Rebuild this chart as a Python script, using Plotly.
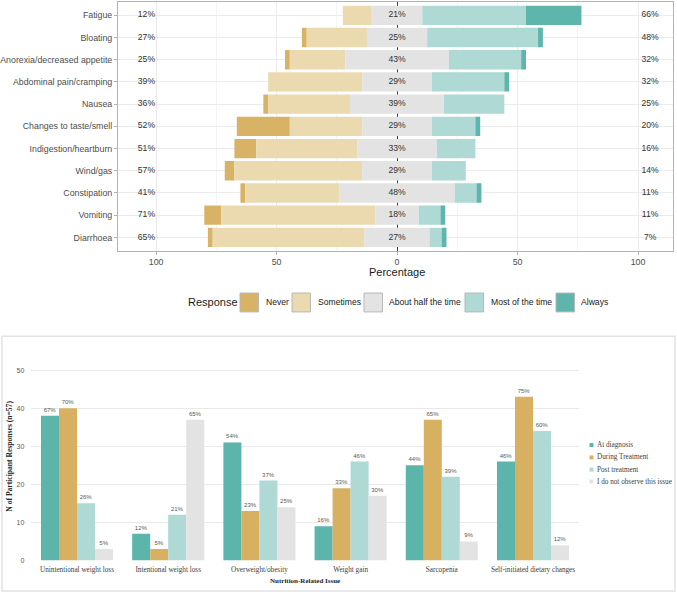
import plotly.graph_objects as go

W, H = 677, 596
def px(x): return x / W
def py(y): return 1 - y / H

# ---------------- Top panel data (percent of respondents) ----------------
symptoms = ["Fatigue", "Bloating", "Anorexia/decreased appetite", "Abdominal pain/cramping",
            "Nausea", "Changes to taste/smell", "Indigestion/heartburn", "Wind/gas",
            "Constipation", "Vomiting", "Diarrhoea"]
never     = [0, 2, 2, 0, 2, 22, 9, 4, 2, 7, 2]
sometimes = [12, 25, 23, 39, 34, 30, 42, 53, 39, 64, 63]
half      = [21, 25, 43, 29, 39, 29, 33, 29, 48, 18, 27]
most      = [43, 46, 30, 30, 25, 18, 16, 14, 9, 9, 5]
always    = [23, 2, 2, 2, 0, 2, 0, 0, 2, 2, 2]
responses = ["Never", "Sometimes", "About half the time", "Most of the time", "Always"]
x_ticks = [-100, -50, 0, 50, 100]
x_ticktext = ["100", "50", "0", "50", "100"]

# ---------------- Bottom panel data (counts, n=57) ----------------
issues = ["Unintentional weight loss", "Intentional weight loss", "Overweight/obesity",
          "Weight gain", "Sarcopenia", "Self-initiated dietary changes"]
at_diagnosis = [38, 7, 31, 9, 25, 26]
at_diagnosis_pct = ["67%", "12%", "54%", "16%", "44%", "46%"]
during_treatment = [40, 3, 13, 19, 37, 43]
during_treatment_pct = ["70%", "5%", "23%", "33%", "65%", "75%"]
post_treatment = [15, 12, 21, 26, 22, 34]
post_treatment_pct = ["26%", "21%", "37%", "46%", "39%", "60%"]
not_observed = [3, 37, 14, 17, 5, 4]
not_observed_pct = ["5%", "65%", "25%", "30%", "9%", "12%"]
series_names = ["At diagnosis", "During Treatment", "Post treatment", "I do not observe this issue"]
y2_ticks = [0, 10, 20, 30, 40, 50]

# ---------------- Styles ----------------
C_NEVER, C_SOME, C_HALF, C_MOST, C_ALWAYS = "#D9B365", "#EBDAB0", "#E3E3E3", "#AED9D5", "#5DB5AB"
top_colors = [C_NEVER, C_SOME, C_HALF, C_MOST, C_ALWAYS]
bot_colors = ["#5CB5AA", "#D8B061", "#AED9D5", "#E3E3E3"]
SANS = "Liberation Sans, Arial, sans-serif"
SERIF = "Liberation Serif, Times New Roman, serif"

fig = go.Figure()

# diverging stacked bars (computed bases)
left_half = [h / 2 for h in half]
base_half = [-h for h in left_half]
base_some = [-(lh + s) for lh, s in zip(left_half, sometimes)]
base_never = [-(lh + s + n) for lh, s, n in zip(left_half, sometimes, never)]
base_most = left_half
base_always = [lh + m for lh, m in zip(left_half, most)]

bw_top = 0.87
for vals, base, col in [(never, base_never, C_NEVER), (sometimes, base_some, C_SOME),
                        (half, base_half, C_HALF), (most, base_most, C_MOST),
                        (always, base_always, C_ALWAYS)]:
    fig.add_trace(go.Bar(y=symptoms, x=vals, base=base, orientation="h", width=bw_top,
                         marker=dict(color=col, line=dict(width=0)), showlegend=False,
                         xaxis="x", yaxis="y", hoverinfo="skip"))

left_lbl = [f"{n + s}%" for n, s in zip(never, sometimes)]
mid_lbl = [f"{h}%" for h in half]
right_lbl = [f"{m + a}%" for m, a in zip(most, always)]
for xpos, lbls in [(-104, left_lbl), (0, mid_lbl), (105, right_lbl)]:
    fig.add_trace(go.Scatter(y=symptoms, x=[xpos] * len(symptoms), mode="text", text=lbls,
                             textfont=dict(family=SANS, size=8.6, color="#333333"),
                             showlegend=False, xaxis="x", yaxis="y", hoverinfo="skip",
                             cliponaxis=False))

# grouped bars (bottom)
bw = 0.1975
offsets = [-2 * bw, -bw, 0, bw]
for vals, lbls, col, off, name in zip([at_diagnosis, during_treatment, post_treatment, not_observed],
                                     [at_diagnosis_pct, during_treatment_pct, post_treatment_pct, not_observed_pct],
                                     bot_colors, offsets, series_names):
    fig.add_trace(go.Bar(x=issues, y=vals, width=bw, offset=off, name=name,
                         marker=dict(color=col, line=dict(width=0)),
                         text=lbls, textposition="outside",
                         textfont=dict(family=SANS, size=6, color="#595959"),
                         cliponaxis=False, showlegend=False,
                         xaxis="x2", yaxis="y2", hoverinfo="skip"))

shapes = []
annotations = []

# top legend (manual)
annotations.append(dict(text="Response", x=px(186), y=py(304), xref="paper", yref="paper",
                        xanchor="left", yanchor="middle", showarrow=False,
                        font=dict(family=SANS, size=11, color="#1a1a1a")))
sq_x = [240, 292, 364, 465, 556]
txt_x = [264, 316, 387, 489, 579]
for sx, tx, col, lab in zip(sq_x, txt_x, top_colors, responses):
    shapes.append(dict(type="rect", xref="paper", yref="paper", x0=px(sx), x1=px(sx + 18.5),
                       y0=py(313.5), y1=py(294.5), fillcolor=col,
                       line=dict(color="#b8b8b8", width=1)))
    annotations.append(dict(text=lab, x=px(tx), y=py(304), xref="paper", yref="paper",
                            xanchor="left", yanchor="middle", showarrow=False,
                            font=dict(family=SANS, size=8.6, color="#1a1a1a")))
annotations.append(dict(text="Percentage", x=px(397), y=py(273), xref="paper", yref="paper",
                        xanchor="center", yanchor="middle", showarrow=False,
                        font=dict(family=SANS, size=11, color="#1a1a1a")))

# bottom box
shapes.append(dict(type="rect", xref="paper", yref="paper", x0=px(2), x1=px(675),
                   y0=py(594), y1=py(338), line=dict(color="#e2e2e2", width=1.5),
                   fillcolor="rgba(0,0,0,0)", layer="below"))
# bottom legend (manual)
leg_y = [447.3, 459.8, 472, 484]
for ly, col, lab in zip(leg_y, bot_colors, series_names):
    shapes.append(dict(type="rect", xref="paper", yref="paper", x0=px(589.5), x1=px(593.5),
                       y0=py(ly + 2), y1=py(ly - 2), fillcolor=col, line=dict(width=0)))
    annotations.append(dict(text=lab, x=px(595), y=py(ly), xref="paper", yref="paper",
                            xanchor="left", yanchor="middle", showarrow=False,
                            font=dict(family=SERIF, size=7.2, color="#404040")))
annotations.append(dict(text="<b>Nutrition-Related Issue</b>", x=px(305), y=py(584),
                        xref="paper", yref="paper", xanchor="center", yanchor="middle",
                        showarrow=False, font=dict(family=SERIF, size=7.0, color="#262626")))
annotations.append(dict(text="<b>N of Participant Responses (n=57)</b>", x=px(10), y=py(459),
                        xref="paper", yref="paper", xanchor="center", yanchor="middle",
                        textangle=-90, showarrow=False,
                        font=dict(family=SERIF, size=7.6, color="#262626")))

fig.update_layout(
    width=W, height=H, margin=dict(l=0, r=0, t=0, b=0),
    paper_bgcolor="white", plot_bgcolor="white",
    barmode="overlay", showlegend=False,
    shapes=shapes, annotations=annotations,
    xaxis=dict(domain=[px(118), px(673)], anchor="y", range=[-115.8, 114.5],
               tickvals=x_ticks, ticktext=x_ticktext,
               tickfont=dict(family=SANS, size=8.8, color="#4d4d4d"),
               ticks="outside", ticklen=3, tickcolor="#b3b3b3",
               showgrid=True, gridcolor="#ebebeb", gridwidth=1,
               minor=dict(tickvals=[-75, -25, 25, 75], showgrid=True, gridcolor="#f4f4f4", gridwidth=0.6),
               zeroline=True, zerolinecolor="#3a3a3a", zerolinewidth=1,
               showline=True, mirror=True, linecolor="#b3b3b3", linewidth=1),
    yaxis=dict(domain=[py(252), py(2)], anchor="x", type="category",
               categoryorder="array", categoryarray=symptoms, range=[10.6, -0.6],
               tickfont=dict(family=SANS, size=8.8, color="#4d4d4d"),
               ticks="outside", ticklen=3, tickcolor="#b3b3b3",
               showgrid=True, gridcolor="#ebebeb",
               showline=True, mirror=True, linecolor="#b3b3b3", linewidth=1),
    xaxis2=dict(domain=[px(31.4), px(578.6)], anchor="y2", type="category",
                categoryorder="array", categoryarray=issues, range=[-0.5, 5.5],
                tickfont=dict(family=SERIF, size=7.2, color="#404040"),
                ticks="", ticklabelstandoff=3, showgrid=False, showline=False, zeroline=False),
    yaxis2=dict(domain=[py(563.3), py(352.9)], anchor="x2", range=[0, 55],
                tickvals=y2_ticks, tickfont=dict(family=SANS, size=7, color="#595959"),
                ticks="", ticklabelstandoff=6,
                showgrid=True, gridcolor="#e9e9e9", gridwidth=1, zeroline=False, showline=False),
)

fig.write_html("out.html")
